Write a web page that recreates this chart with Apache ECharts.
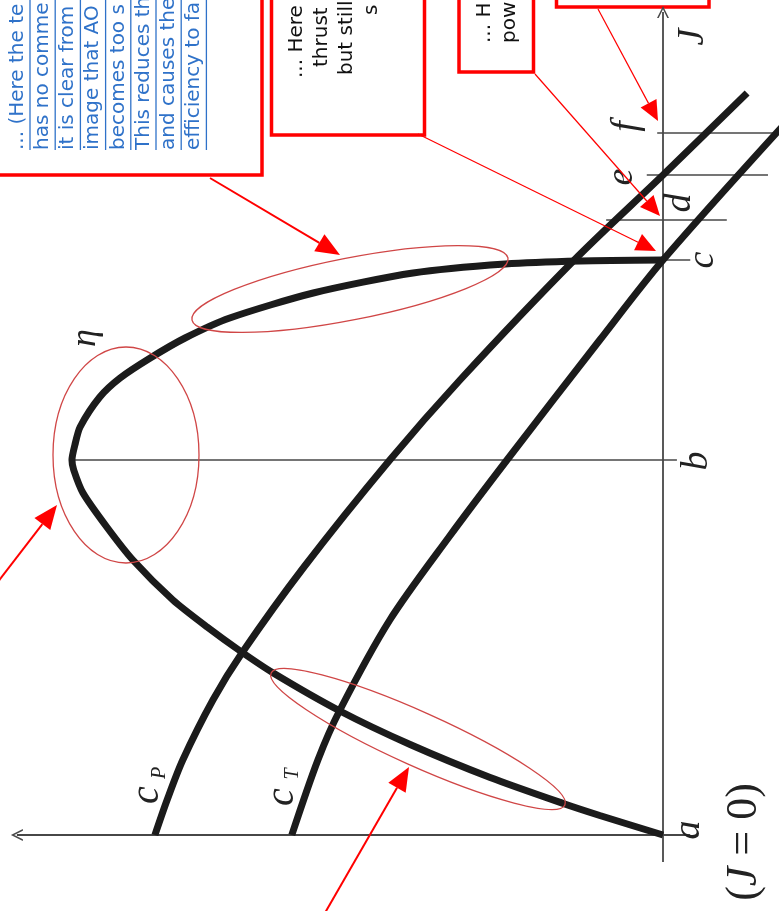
<!DOCTYPE html>
<html>
<head>
<meta charset="utf-8">
<script src="https://cdn.jsdelivr.net/npm/echarts@6/dist/echarts.min.js"></script>
<style>
  html, body { margin: 0; padding: 0; background: #ffffff; }
  #chart { width: 779px; height: 911px; }
</style>
</head>
<body>
<div id="chart"></div>
<script>
// Propeller characteristics versus advance ratio J.
// J runs up the page; the coefficient value grows to the left.
const etaVal = [0, 0.109, 0.172, 0.298, 0.436, 0.557, 0.672, 0.729, 0.786, 0.845, 0.914, 0.959, 1.000, 1.016, 1.019, 1.014, 1.005, 0.971, 0.936, 0.884, 0.824, 0.747, 0.603, 0.431, 0.272, 0.143, 0];
const etaJ   = [0, 0.039, 0.063, 0.115, 0.181, 0.248, 0.324, 0.368, 0.416, 0.470, 0.550, 0.616, 0.684, 0.730, 0.750, 0.780, 0.816, 0.876, 0.914, 0.954, 0.994, 1.034, 1.084, 1.124, 1.142, 1.148, 1.150];

const cpVal = [0.876, 0.855, 0.828, 0.776, 0.726, 0.619, 0.471, 0.350, 0.153, 0, -0.145];
const cpJ   = [0, 0.070, 0.150, 0.270, 0.364, 0.536, 0.750, 0.910, 1.150, 1.320, 1.484];

const ctVal = [0.640, 0.595, 0.557, 0.471, 0.369, 0.269, 0.109, 0, -0.219];
const ctJ   = [0, 0.150, 0.250, 0.430, 0.596, 0.750, 0.990, 1.150, 1.434];

// Marked operating points on the J axis
const tickNames = ['a', 'b', 'c', 'd', 'e', 'f'];
const tickJ     = [0, 0.75, 1.15, 1.23, 1.32, 1.405];

// ---- layout ----
const X_MIN = -0.2, X_MAX = 1.14, J_MIN = -0.152, J_MAX = 1.67;
const etaPeak = Math.max.apply(null, etaVal);
// reach of each guide line across the J axis (coefficient units)
const guideReach = { b: [etaPeak, -0.024], c: [0, -0.047], d: [0.098, -0.11], e: [0.028, -0.181], f: [0.01, -0.21] };
const axisJ = [-0.054, 1.646];     // extent of the J axis line
const axisV = [-0.047, 1.114];     // extent of the coefficient axis line
const CHEVRON = 'path://M5,0 L10,10 L8.6,10 L5,2.8 L1.4,10 L0,10 Z';

const zip = (xs, ys) => xs.map((v, i) => [v, ys[i]]);
const INK = '#1b1b1b';

const chart = echarts.init(document.getElementById('chart'));

const guides = tickNames.slice(1).map((n, i) => {
  const J = tickJ[i + 1];
  const r = guideReach[n];
  return { coords: [[r[0], J], [r[1], J]] };
});

chart.setOption({
  animation: false,
  backgroundColor: '#ffffff',
  grid: { left: 1.8, right: 0, top: 0, bottom: 0 },
  xAxis: { type: 'value', inverse: true, min: X_MIN, max: X_MAX, show: false },
  yAxis: { type: 'value', min: J_MIN, max: J_MAX, show: false },
  series: [
    {
      type: 'lines', coordinateSystem: 'cartesian2d', silent: true, z: 1,
      lineStyle: { color: '#474747', width: 1.5, opacity: 1 },
      data: guides
    },
    {
      type: 'lines', coordinateSystem: 'cartesian2d', silent: true, z: 1,
      symbol: ['none', CHEVRON], symbolSize: [11, 12],
      lineStyle: { color: '#474747', width: 1.8, opacity: 1 },
      data: [
        { coords: [[0, axisJ[0]], [0, axisJ[1]]] },
        { coords: [[axisV[0], 0], [axisV[1], 0]] }
      ]
    },
    { name: 'eta', type: 'line', data: zip(etaVal, etaJ), smooth: 0.25, symbol: 'none', z: 3,
      lineStyle: { color: INK, width: 7 } },
    { name: 'cP', type: 'line', data: zip(cpVal, cpJ), smooth: 0.3, symbol: 'none', z: 3,
      lineStyle: { color: INK, width: 7 } },
    { name: 'cT', type: 'line', data: zip(ctVal, ctJ), smooth: 0.3, symbol: 'none', z: 3,
      lineStyle: { color: INK, width: 7 } }
  ]
});

const px = (v, J) => chart.convertToPixel({ gridIndex: 0 }, [v, J]);
const R90 = Math.PI / 2;
const SERIF = '"Liberation Serif", "DejaVu Serif", serif';
const SANS = '"DejaVu Sans", Verdana, sans-serif';

function rotText(p, dx, dy, text, font, fill) {
  return { type: 'text', x: p[0] + dx, y: p[1] + dy, rotation: R90, silent: true, z: 50,
    style: { text: text, font: font, fill: fill || '#222', textAlign: 'center', textVerticalAlign: 'middle' } };
}

const g = [];

// letters on the J axis
const letterOffset = { a: [26, -5], b: [34, 1], c: [40, 0], d: [17, -17], e: [-41, 2], f: [-36, -6] };
tickNames.forEach((n, i) => {
  const p = px(0, tickJ[i]);
  g.push(rotText(p, letterOffset[n][0], letterOffset[n][1], n, 'italic 38px ' + SERIF));
});
const pA = px(0, 0);
g.push({ type: 'text', x: pA[0] + 81, y: pA[1] + 7, rotation: R90, silent: true, z: 50,
  style: { text: '{n|(}{i|J}{n| = 0)}', fill: '#222', textAlign: 'center', textVerticalAlign: 'middle',
    rich: { n: { font: '44px ' + SERIF, fill: '#222' }, i: { font: 'italic 44px ' + SERIF, fill: '#222' } } } });
const pJ = px(0, axisJ[1]);
g.push(rotText(pJ, 30, 25, 'J', 'italic 38px ' + SERIF));

// curve names
const pPeak = px(etaPeak, etaJ[etaVal.indexOf(etaPeak)]);
g.push(rotText(pPeak, 14, -122, 'η', 'italic 36px ' + SERIF));
const pCp = px(cpVal[0], cpJ[0]);
g.push(rotText(pCp, -7, -40, 'c', 'italic 40px ' + SERIF));
g.push(rotText(pCp, 5, -62, 'P', 'italic 20px ' + SERIF));
const pCt = px(ctVal[0], ctJ[0]);
g.push(rotText(pCt, -9, -38, 'c', 'italic 40px ' + SERIF));
g.push(rotText(pCt, 1, -61, 'T', 'italic 20px ' + SERIF));

// highlighted regions
const ring = (cx, cy, rx, ry, rot) => ({ type: 'ellipse', x: cx, y: cy, rotation: rot, silent: true, z: 60,
  shape: { cx: 0, cy: 0, rx: rx, ry: ry }, style: { fill: 'none', stroke: '#d04646', lineWidth: 1.3 } });
g.push(ring(126, 455, 73, 108, 0));
g.push(ring(350, 289, 161, 31, 0.194));
g.push(ring(418, 739, 161, 27, -0.422));

// pointers
function arrow(from, to, w, hl, hw) {
  const dx = to[0] - from[0], dy = to[1] - from[1], L = Math.hypot(dx, dy);
  const ux = dx / L, uy = dy / L;
  const bx = to[0] - ux * hl, by = to[1] - uy * hl;
  g.push({ type: 'line', silent: true, z: 70, shape: { x1: from[0], y1: from[1], x2: bx, y2: by },
    style: { stroke: '#ff0000', lineWidth: w } });
  g.push({ type: 'polygon', silent: true, z: 70,
    shape: { points: [[to[0], to[1]], [bx - uy * hw / 2, by + ux * hw / 2], [bx + uy * hw / 2, by - ux * hw / 2]] },
    style: { fill: '#ff0000' } });
}
arrow([210, 178], [340, 255], 2, 24, 20);
arrow([418, 134], [656, 251], 1.2, 20, 18);
arrow([535, 74], [660, 216], 1.2, 20, 18);
arrow([598, 9], [658, 121], 1.2, 20, 18);
arrow([-10, 592], [57, 505], 2, 24, 20);
arrow([318, 925], [409, 767], 2, 24, 20);

// note boxes, laid out along the page's long side
const BLUE = '#2f72c9';
const box = (x, y, w, h) => ({ type: 'rect', shape: { x: x, y: y, width: w, height: h },
  style: { fill: '#ffffff', stroke: '#ff0000', lineWidth: 3.5 } });
const line = (x, y, s, fill) => ({ type: 'text', x: x, y: y,
  style: { text: s, font: '20px ' + SANS, fill: fill, textAlign: 'left', textVerticalAlign: 'middle' } });

const noteA = ['... (Here the te', 'has no comme', 'it is clear from', 'image that AO', 'becomes too s', 'This reduces th', 'and causes the', 'efficiency to fa'];
const kids = [];
kids.push(box(736, -10, 200, 272));
noteA.forEach((s, i) => {
  const v = 17.5 + 25.2 * i;
  kids.push(line(761, v, s, BLUE));
  kids.push({ type: 'line', shape: { x1: 761, y1: v + 12.5, x2: 920, y2: v + 12.5 }, style: { stroke: BLUE, lineWidth: 1.3 } });
});
kids.push(box(776, 271.5, 160, 153));
kids.push(line(833, 297, '... Here', '#111'));
kids.push(line(844, 322, 'thrust', '#111'));
kids.push(line(836, 347, 'but still', '#111'));
kids.push(line(896, 372, 's', '#111'));
kids.push(box(839, 459, 100, 74.5));
kids.push(line(868, 485, '... H', '#111'));
kids.push(line(868, 510, 'pow', '#111'));
kids.push(box(904, 556.5, 40, 152.5));

g.push({ type: 'group', x: 0, y: 911, rotation: R90, silent: true, z: 80, children: kids });

chart.setOption({ graphic: { elements: g } });
</script>
</body>
</html>
